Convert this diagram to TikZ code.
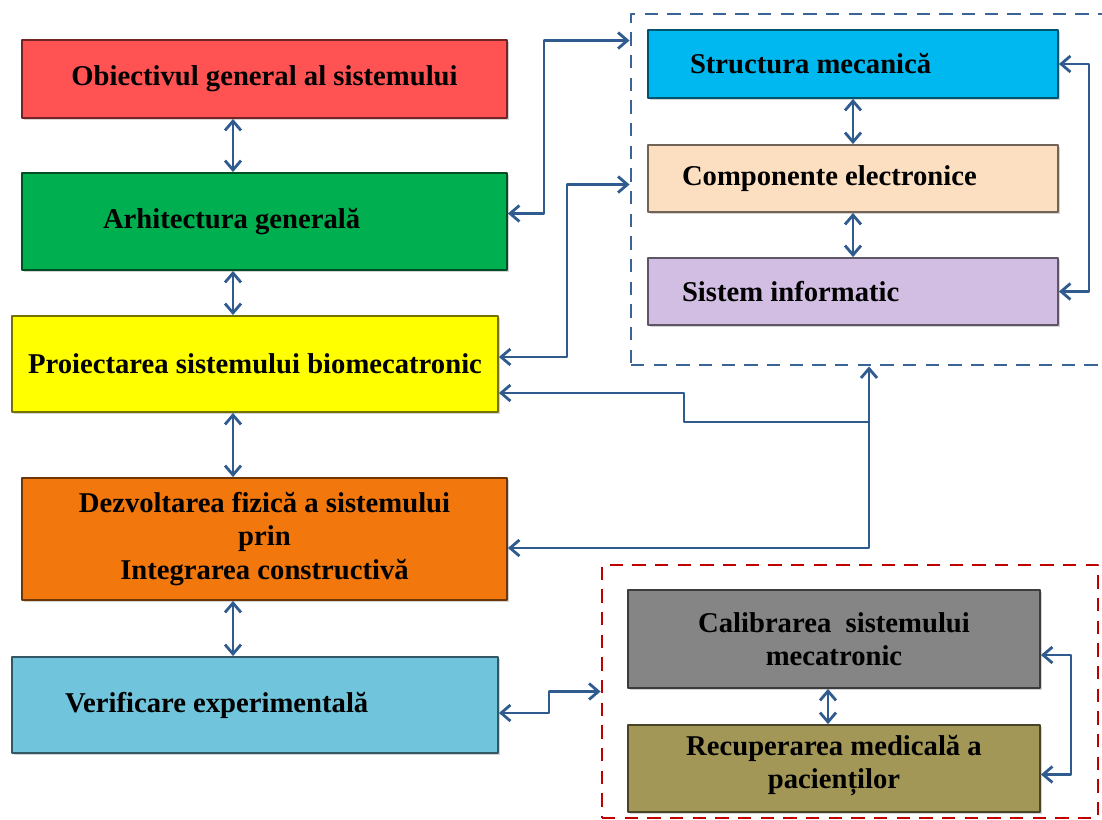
\documentclass[tikz,border=0pt]{standalone}
\usepackage{fontspec}
\setmainfont{Liberation Serif}
\usetikzlibrary{arrows.meta}
\usetikzlibrary{calc}
\usetikzlibrary{shadows}
\definecolor{rosu}{HTML}{FF5353}
\definecolor{verde}{HTML}{00B050}
\definecolor{galben}{HTML}{FFFF00}
\definecolor{portocaliu}{HTML}{F2780E}
\definecolor{bleu}{HTML}{70C4DC}
\definecolor{cian}{HTML}{00B8F0}
\definecolor{piersica}{HTML}{FCDEC0}
\definecolor{lavanda}{HTML}{D2BEE2}
\definecolor{gri}{HTML}{858585}
\definecolor{oliv}{HTML}{A29756}
\definecolor{albastru}{HTML}{2F5B8F}
\definecolor{albastruc}{HTML}{3A6496}
\definecolor{rosuc}{HTML}{C00000}

\begin{document}
\begin{tikzpicture}[line cap=round,line join=round,>={Straight Barb[length=7pt,width=12pt]},x=0.75pt,y=-0.75pt,
  bloc/.style={draw=#1!45!black, fill=#1, line width=1.4pt, align=center,
    font=\fontsize{21.5}{25}\selectfont\bfseries,
    drop shadow={opacity=0.35,shadow xshift=1.5pt,shadow yshift=-1.5pt}},
  stg/.style 2 args={align=flush left, inner xsep=#1, text width=#2},
  sageata/.style={<->, albastru, line width=2.1pt},
  cadru/.style={line cap=butt, line width=2.2pt, dash pattern=on 10pt off 7pt}]
\useasboundingbox (0,0) rectangle (1102,820);
\node [cadru, draw=albastruc, minimum width=363pt, minimum height=263.25pt] (mec) at (873,189.5) {};
\node [cadru, draw=rosuc, minimum width=372pt, minimum height=189.75pt] (med) at (850,691.5) {};

\node [bloc=rosu, minimum width=363.75pt, minimum height=58.5pt] (obi) at (264.5,79) {Obiectivul general al sistemului};
\node [bloc=verde, stg={60.75pt}{242.25pt}, minimum height=72.75pt] (arh) at (264.5,221.5) {Arhitectura generală};
\node [bloc=galben, minimum width=364.5pt, minimum height=72pt] (pro) at (255,364) {Proiectarea sistemului biomecatronic};
\node [bloc=portocaliu, minimum width=363.75pt, minimum height=91.5pt] (dez) at (264.5,539) {Dezvoltarea fizică a sistemului\\ prin\\ Integrarea constructivă};
\node [bloc=bleu, stg={39.75pt}{285pt}, minimum height=72pt] (ver) at (255,705) {Verificare experimentală};

\node [bloc=cian, stg={31.5pt}{244.5pt}, minimum height=51pt] (str) at (853,64) {Structura mecanică};
\node [bloc=piersica, stg={25.5pt}{256.5pt}, minimum height=50.25pt] (com) at (853,178.5) {Componente electronice};
\node [bloc=lavanda, stg={25.5pt}{256.5pt}, minimum height=50.25pt] (sis) at (853,291.5) {Sistem informatic};

\node [bloc=gri, minimum width=309pt, minimum height=73.5pt] (cal) at (834,639) {Calibrarea~ sistemului\\ mecatronic};
\node [bloc=oliv, minimum width=309pt, minimum height=65.25pt, text depth=10pt] (rec) at (834,768.5) {Recuperarea medicală a\\ pacienților};

\coordinate (axa) at (233,0);
\draw [sageata] (obi.south -| axa) -- (arh.north -| axa);
\draw [sageata] (arh.south -| axa) -- (pro.north -| axa);
\draw [sageata] (pro.south -| axa) -- (dez.north -| axa);
\draw [sageata] (dez.south -| axa) -- (ver.north -| axa);

\draw [sageata] (str) -- (com);
\draw [sageata] (com) -- (sis);
\draw [sageata] (str.east) -- ++(30,0) |- (sis.east);
\draw [sageata] ($(arh.east)+(0,-8)$) -- ++(36,0) |- ($(mec.north west)+(0,28)$);
\draw [sageata] ($(pro.east)+(0,-7)$) -- ++(68,0) |- ($(mec.north west)+(0,172)$);

\coordinate (nod) at (869,422);
\draw [sageata,->] (nod) -- (mec.south -| nod);
\draw [sageata,->] (nod) |- ($(dez.east)+(0,9)$);
\draw [sageata,->] (nod) -- ++(-185,0) |- ($(pro.east)+(0,29)$);

\draw [sageata] ($(ver.east)+(0,8)$) -- ++(50,0) |- (med.west);
\draw [sageata] ($(cal.south)+(-6,0)$) -- ($(rec.north)+(-6,0)$);
\draw [sageata] ($(cal.east)+(0,16)$) -- ++(30,0) |- ($(rec.east)+(0,6)$);
\end{tikzpicture}
\end{document}
